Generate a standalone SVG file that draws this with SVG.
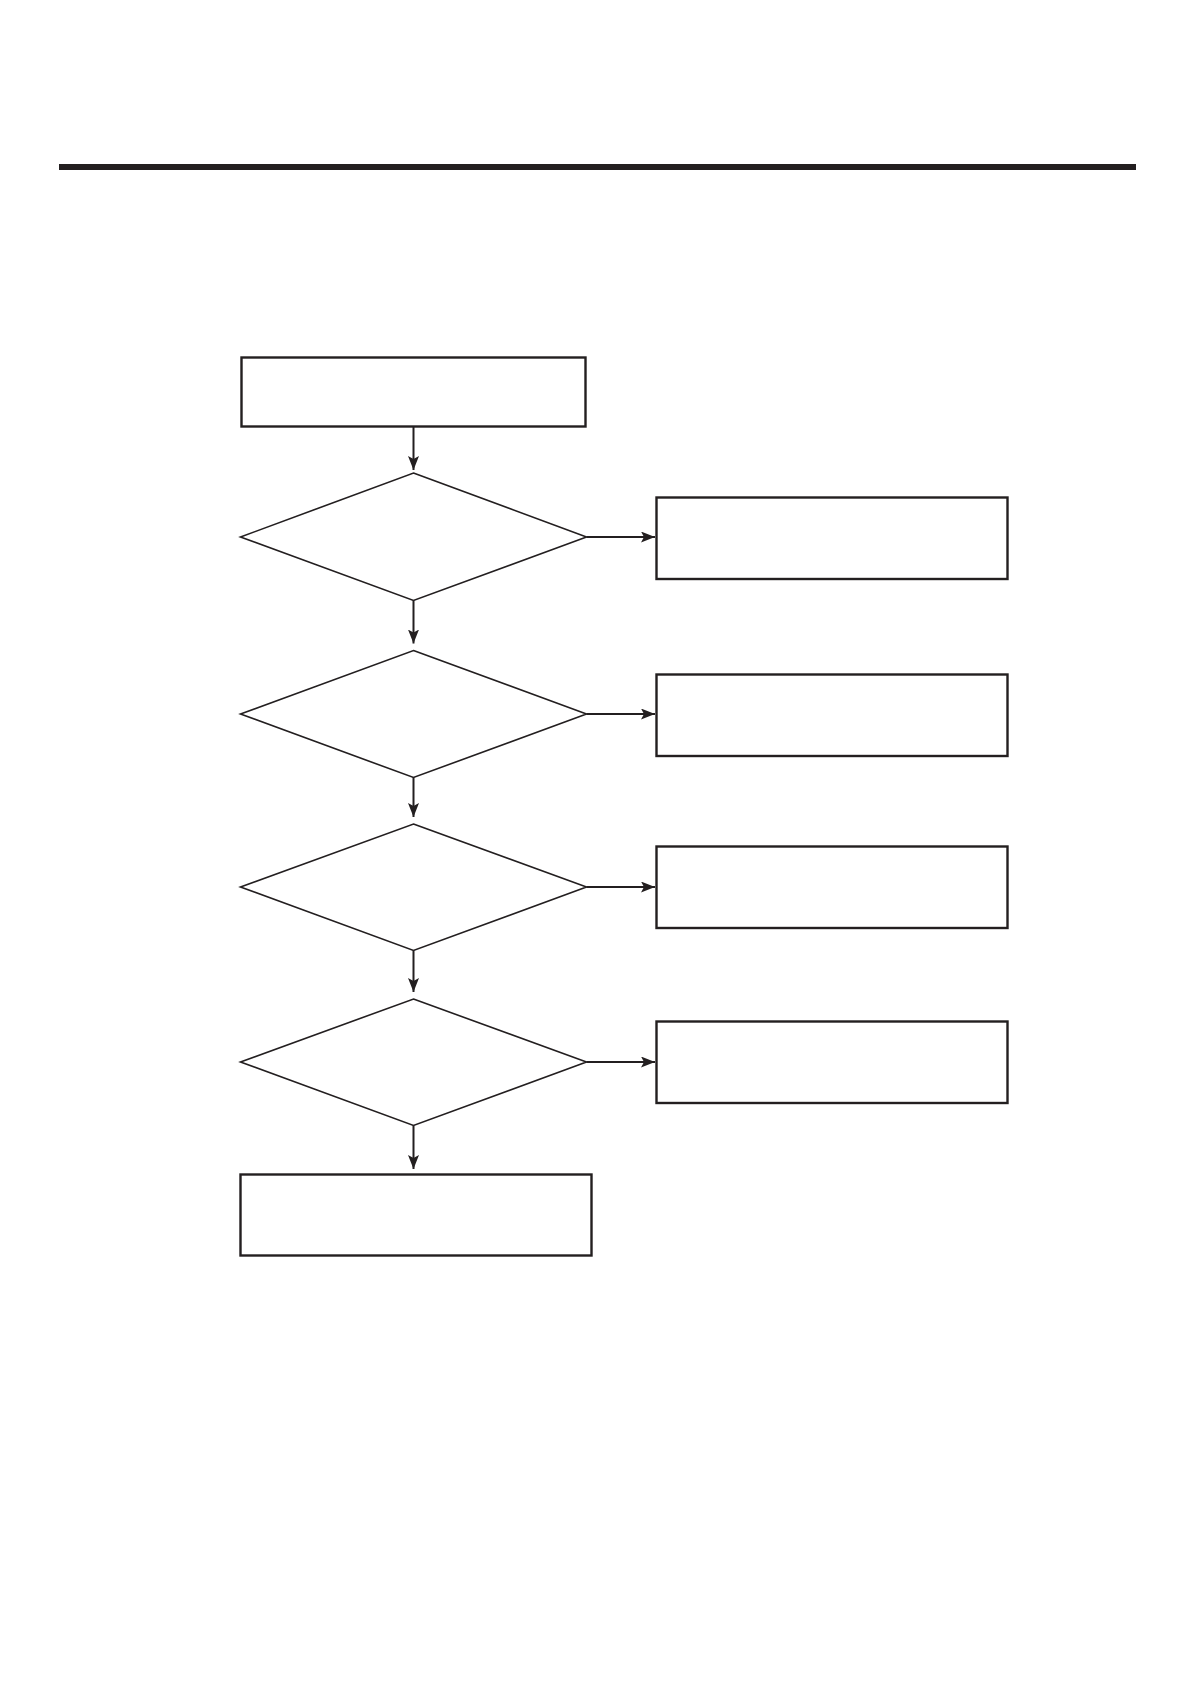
<svg xmlns="http://www.w3.org/2000/svg" width="1191" height="1684" viewBox="0 0 1191 1684">
<style>
.box{fill:#fff;stroke:#231f20;stroke-width:2.4}
.dia{fill:#fff;stroke:#231f20;stroke-width:1.6}
.con{fill:none;stroke:#231f20;stroke-width:2}
</style>
<defs>
<marker id="ah" markerUnits="userSpaceOnUse" markerWidth="14" markerHeight="11" refX="14" refY="5.5" orient="auto">
<path d="M0,0 L14,5.5 L0,11 L3,5.5 Z" fill="#231f20"/>
</marker>
</defs>
<rect x="59" y="164" width="1077" height="6" fill="#231f20"/>
<g id="start"><rect class="box" x="241.5" y="357.5" width="344" height="69"/></g>
<g id="d1"><polygon class="dia" points="413.5,473 586.5,537 413.5,600.5 240.5,537"/></g>
<g id="r1"><rect class="box" x="656.5" y="497.5" width="351" height="81.5"/></g>
<g id="d2"><polygon class="dia" points="413.5,650.5 586.5,714 413.5,777.5 240.5,714"/></g>
<g id="r2"><rect class="box" x="656.5" y="674.5" width="351" height="81.5"/></g>
<g id="d3"><polygon class="dia" points="413.5,824 586.5,887 413.5,950.5 240.5,887"/></g>
<g id="r3"><rect class="box" x="656.5" y="846.5" width="351" height="81.5"/></g>
<g id="d4"><polygon class="dia" points="413.5,999 586.5,1062 413.5,1125.5 240.5,1062"/></g>
<g id="r4"><rect class="box" x="656.5" y="1021.5" width="351" height="81.5"/></g>
<g id="end"><rect class="box" x="240.5" y="1174.5" width="351" height="81"/></g>
<g id="connectors">
<line class="con" x1="413.5" y1="426.5" x2="413.5" y2="470" marker-end="url(#ah)"/>
<line class="con" x1="413.5" y1="600.5" x2="413.5" y2="643.5" marker-end="url(#ah)"/>
<line class="con" x1="413.5" y1="777.5" x2="413.5" y2="817" marker-end="url(#ah)"/>
<line class="con" x1="413.5" y1="950.5" x2="413.5" y2="992" marker-end="url(#ah)"/>
<line class="con" x1="413.5" y1="1125.5" x2="413.5" y2="1169" marker-end="url(#ah)"/>
<line class="con" x1="586.5" y1="537" x2="655" y2="537" marker-end="url(#ah)"/>
<line class="con" x1="586.5" y1="714" x2="655" y2="714" marker-end="url(#ah)"/>
<line class="con" x1="586.5" y1="887" x2="655" y2="887" stroke-width="3" marker-end="url(#ah)"/>
<line class="con" x1="586.5" y1="1062" x2="655" y2="1062" marker-end="url(#ah)"/>
</g>
</svg>
